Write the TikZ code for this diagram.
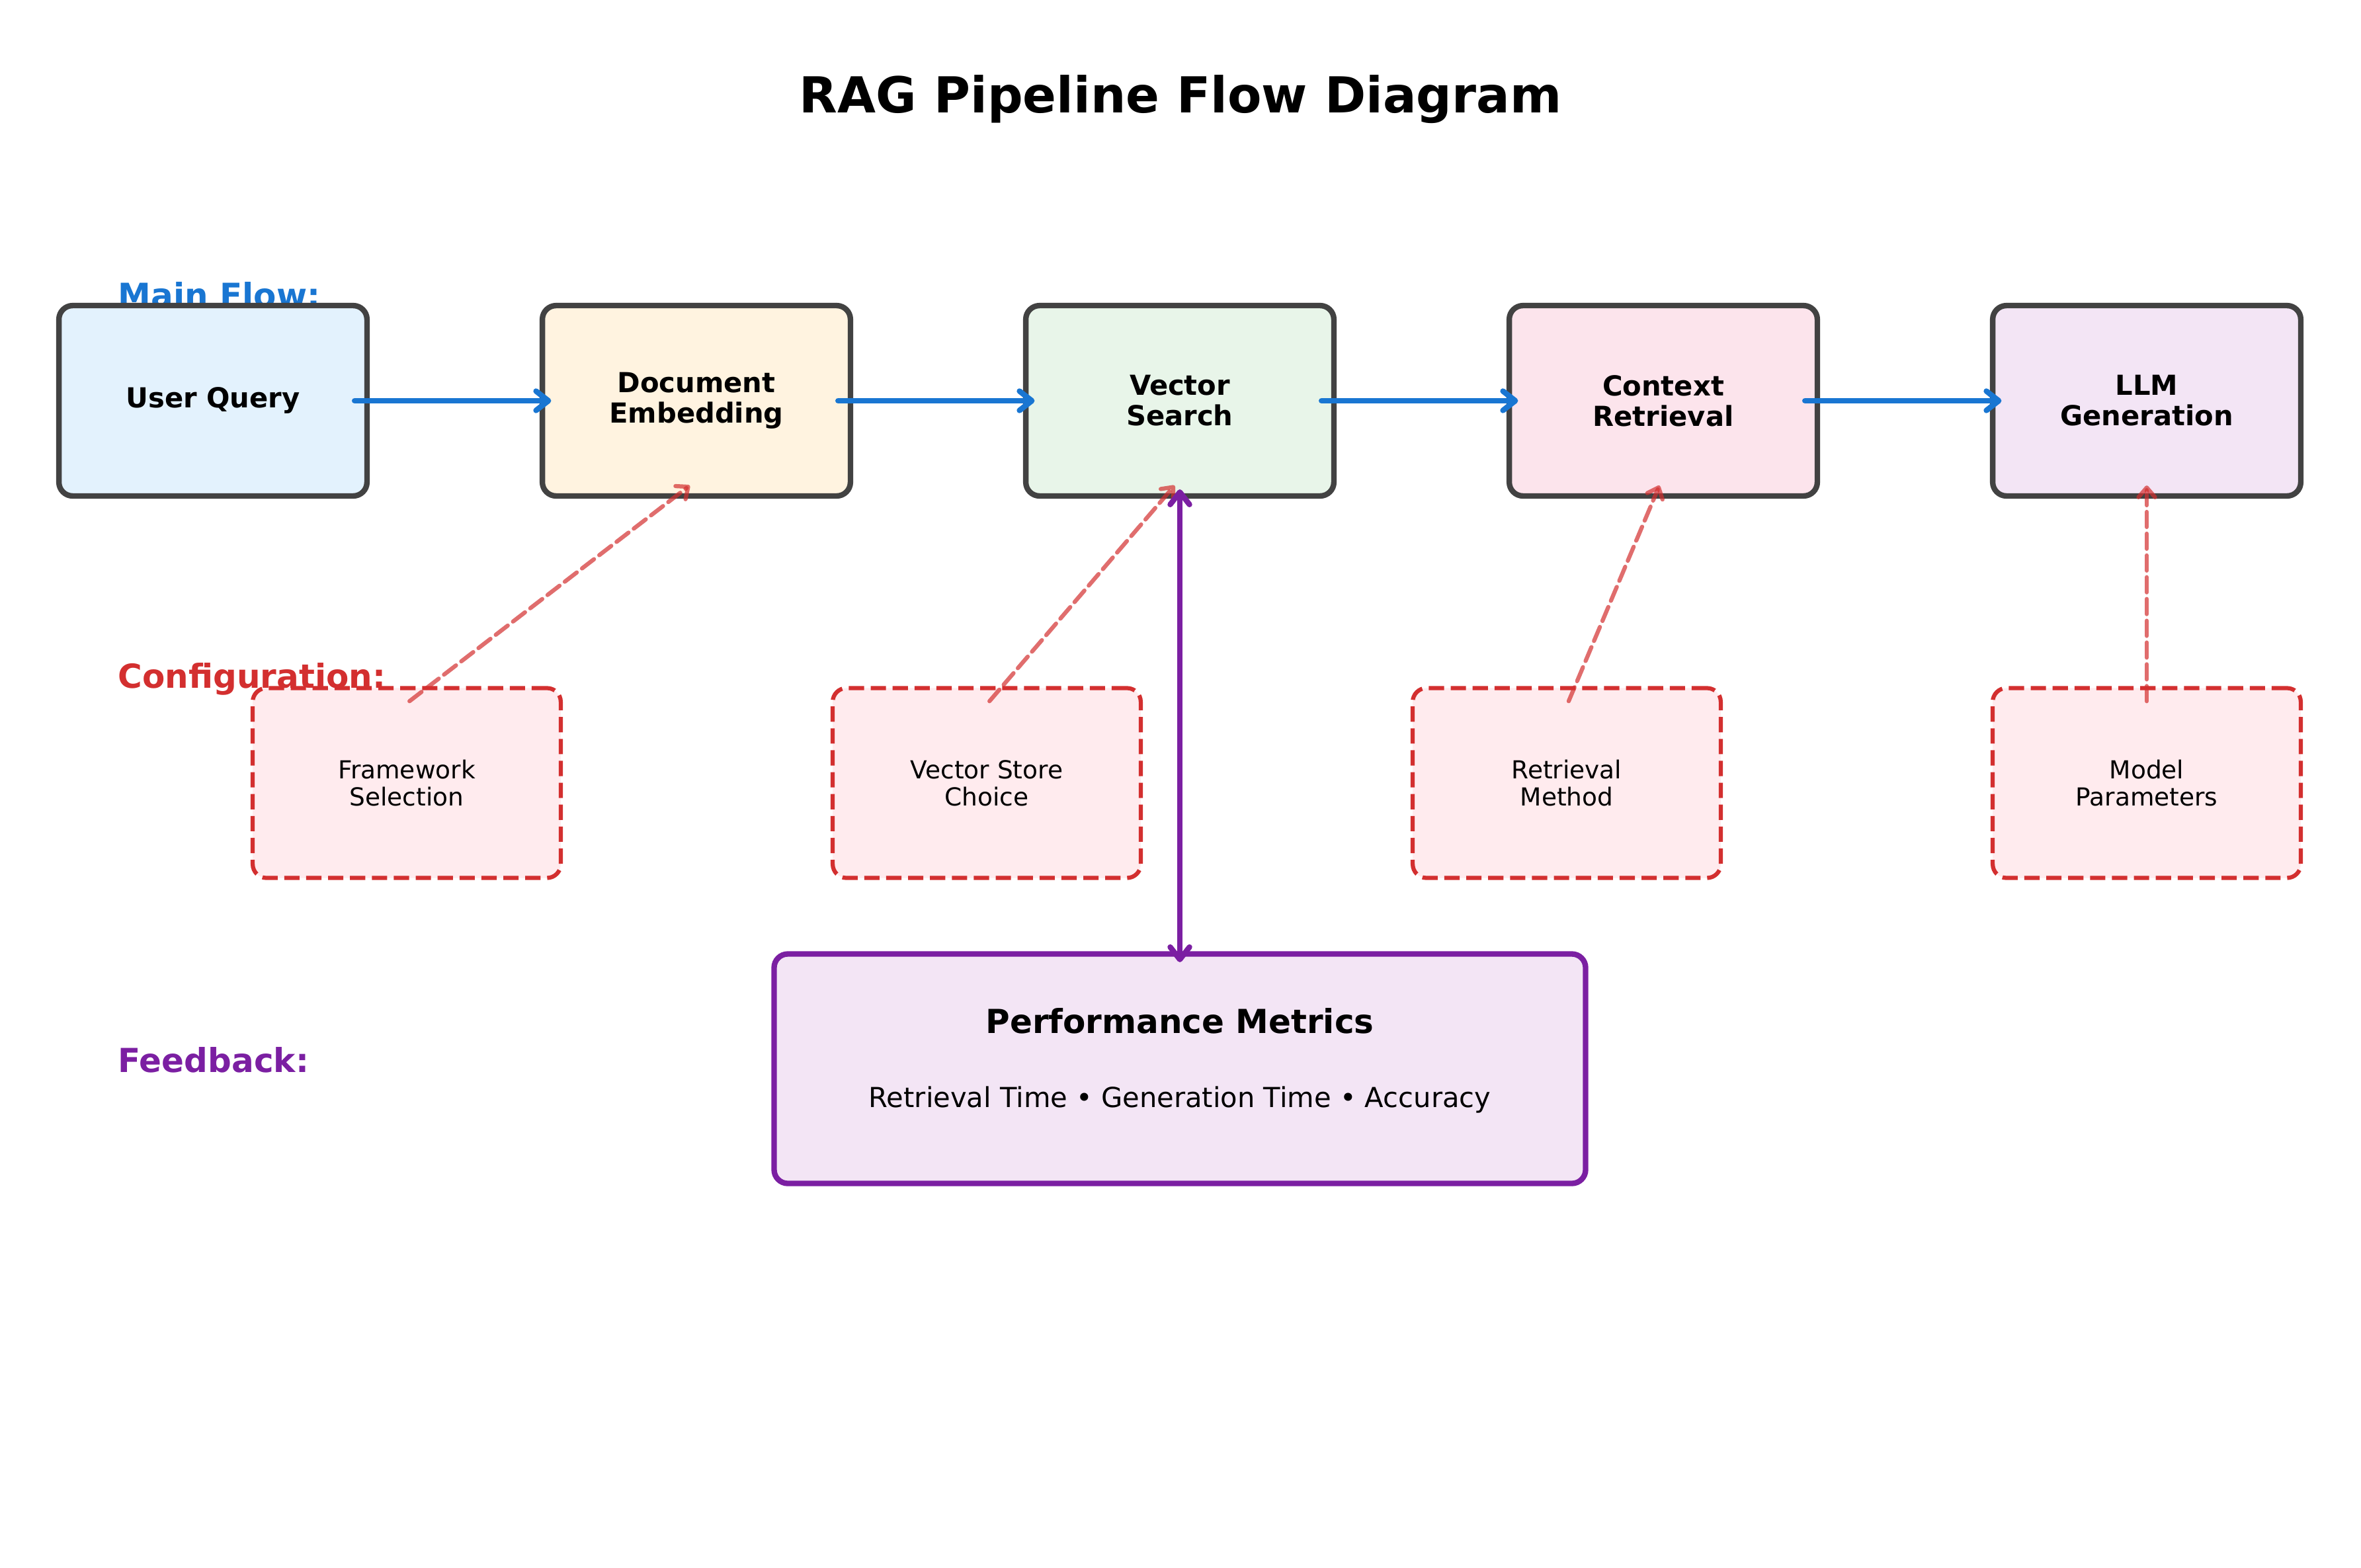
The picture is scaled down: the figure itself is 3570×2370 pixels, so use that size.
\documentclass[tikz,border=0pt]{standalone}
\usepackage{fontspec}
\setmainfont{DejaVu Sans}
\usetikzlibrary{arrows.meta}
\definecolor{flowblue}{HTML}{1976D2}
\definecolor{cfgred}{HTML}{D32F2F}
\definecolor{fbpurple}{HTML}{7B1FA2}
\definecolor{boxgrey}{HTML}{424242}
\definecolor{fillquery}{HTML}{E3F2FD}
\definecolor{fillembed}{HTML}{FFF3E0}
\definecolor{fillsearch}{HTML}{E8F5E9}
\definecolor{fillctx}{HTML}{FCE4EC}
\definecolor{fillllm}{HTML}{F3E5F5}
\definecolor{fillcfg}{HTML}{FFEBEE}
\definecolor{fillperf}{HTML}{F3E5F5}
\begin{document}
\begin{tikzpicture}[x=0.24pt,y=-0.24pt,
  mainbox/.style={draw=boxgrey, line width=2pt, rounded corners=5pt,
    minimum width=111.8pt, minimum height=69.1pt, inner sep=0pt, align=center,
    font=\fontsize{10}{11}\selectfont\bfseries},
  cfgbox/.style={draw=cfgred, fill=fillcfg, line width=1.5pt, dash pattern=on 5.55pt off 2.4pt,
    rounded corners=5pt, minimum width=111.8pt, minimum height=68.9pt, inner sep=0pt,
    align=center, font=\fontsize{9}{9.9}\selectfont},
  lanelabel/.style={anchor=west, inner sep=0pt, font=\fontsize{12}{14}\selectfont\bfseries},
  tipstyle/.tip={Straight Barb[length=4.5pt,width=7pt,line width=2pt,round]},
  flowarrow/.style={draw=flowblue, line width=2pt, line cap=round, -{tipstyle}},
  cfgarrow/.style={draw=cfgred, draw opacity=0.7, line width=1.5pt, line cap=round,
    dash pattern=on 5.5pt off 2.4pt, -{Straight Barb[length=3.5pt,width=6pt,line width=1.5pt,round]}},
  fbarrow/.style={draw=fbpurple, line width=2pt, {tipstyle}-{tipstyle}}
]
\useasboundingbox (0,0) rectangle (3570,2370);

% title
\node[font=\fontsize{18}{21}\selectfont\bfseries] (title) at (1785,150) {RAG Pipeline Flow Diagram};

% lane labels
\node[lanelabel, text=flowblue] (lblmain) at (178,446) {Main Flow:};
\node[lanelabel, text=cfgred] (lblcfg) at (178,1027) {Configuration:};
\node[lanelabel, text=fbpurple] (lblfb) at (178,1603) {Feedback:};

% main flow
\node[mainbox, fill=fillquery] (m1) at (322,606) {User Query};
\node[mainbox, fill=fillembed] (m2) at (1053,606) {Document\\Embedding};
\node[mainbox, fill=fillsearch] (m3) at (1784,606) {Vector\\Search};
\node[mainbox, fill=fillctx] (m4) at (2515,606) {Context\\Retrieval};
\node[mainbox, fill=fillllm] (m5) at (3246,606) {LLM\\Generation};

\draw[flowarrow] ([xshift=-5.5pt]m1.east) -- ([xshift=4.2pt]m2.west);
\draw[flowarrow] ([xshift=-5.5pt]m2.east) -- ([xshift=4.2pt]m3.west);
\draw[flowarrow] ([xshift=-5.5pt]m3.east) -- ([xshift=4.2pt]m4.west);
\draw[flowarrow] ([xshift=-5.5pt]m4.east) -- ([xshift=4.2pt]m5.west);

% configuration
\node[cfgbox] (c1) at (615,1184) {Framework\\Selection};
\node[cfgbox] (c2) at (1492,1184) {Vector Store\\Choice};
\node[cfgbox] (c3) at (2369,1184) {Retrieval\\Method};
\node[cfgbox] (c4) at (3246,1184) {Model\\Parameters};

% performance metrics
\node[draw=fbpurple, fill=fillperf, line width=2pt, rounded corners=5pt,
  minimum width=294.5pt, minimum height=83.3pt, inner sep=0pt] (perf) at (1784,1616) {};
\node[font=\fontsize{12}{14}\selectfont\bfseries] (perftitle) at (1784,1544) {Performance Metrics};
\node[font=\fontsize{10}{12}\selectfont] (perfitems) at (1784,1663) {Retrieval Time • Generation Time • Accuracy};

% config arrows
\draw[cfgarrow] ([xshift=1pt,yshift=-5.5pt]c1.north) -- ([xshift=-2.4pt,yshift=4.8pt]m2.south);
\draw[cfgarrow] ([xshift=1pt,yshift=-5.5pt]c2.north) -- ([xshift=-1.9pt,yshift=4.8pt]m3.south);
\draw[cfgarrow] ([xshift=0.7pt,yshift=-5.5pt]c3.north) -- ([xshift=-1.4pt,yshift=4.8pt]m4.south);
\draw[cfgarrow] ([yshift=-5.5pt]c4.north) -- ([yshift=4.8pt]m5.south);

% feedback arrow
\draw[fbarrow] ([yshift=3.4pt]m3.south) -- ([yshift=-4pt]perf.north);
\end{tikzpicture}
\end{document}
